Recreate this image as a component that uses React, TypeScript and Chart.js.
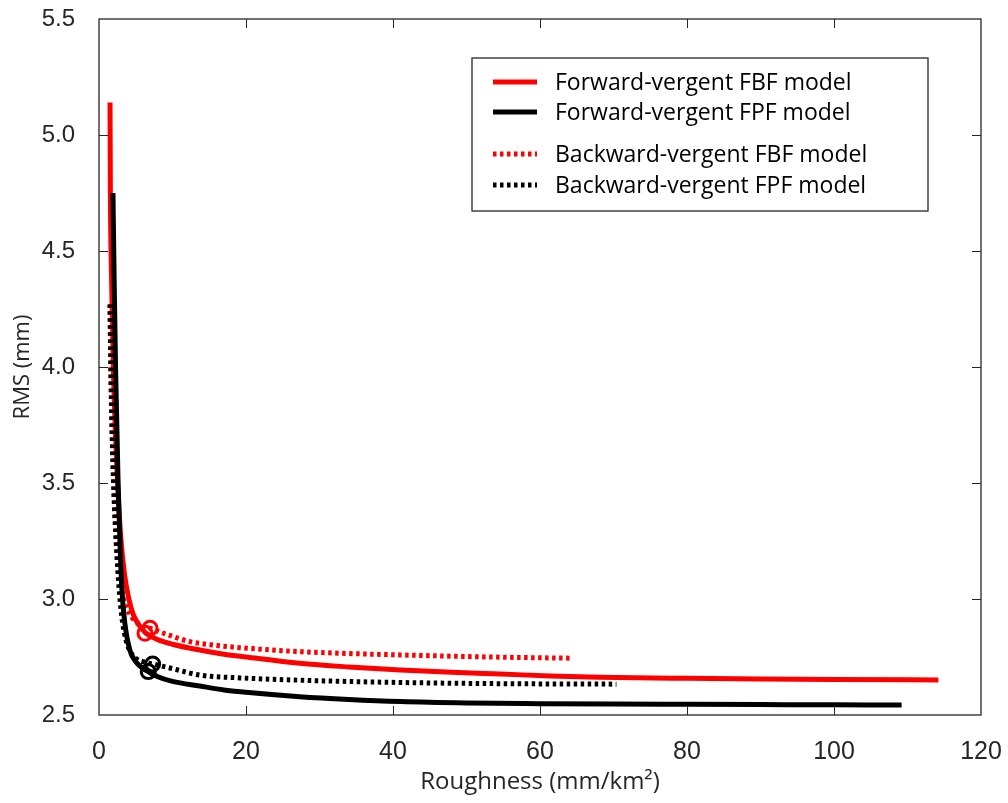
import React, { useEffect, useRef } from "react";
import { Chart, registerables } from "chart.js";

Chart.register(...registerables);

// ---- axis ranges / ticks ----
const X_MIN = 0;
const X_MAX = 120;
const X_STEP = 20;
const Y_MIN = 2.5;
const Y_MAX = 5.5;
const Y_STEP = 0.5;

const X_TITLE = "Roughness (mm/km²)";
const Y_TITLE = "RMS (mm)";

// ---- series labels ----
const LABEL_FWD_FBF = "Forward-vergent FBF model";
const LABEL_FWD_FPF = "Forward-vergent FPF model";
const LABEL_BWD_FBF = "Backward-vergent FBF model";
const LABEL_BWD_FPF = "Backward-vergent FPF model";

// ---- Forward-vergent FBF (red solid) ----
const fwdFbfX = [1.5, 1.55, 1.7, 1.95, 2.25, 2.6, 3.0, 3.5, 4.0, 4.7, 5.5, 6.3, 8, 10, 13.7, 17, 20, 27.3, 34, 41, 48, 54.6, 61.4, 68, 80, 90, 100, 114.2];
const fwdFbfY = [5.14, 4.75, 4.4, 4.0, 3.7, 3.45, 3.25, 3.1, 3.01, 2.93, 2.885, 2.855, 2.825, 2.805, 2.78, 2.762, 2.75, 2.723, 2.707, 2.694, 2.684, 2.677, 2.668, 2.663, 2.658, 2.655, 2.653, 2.651];

// ---- Forward-vergent FPF (black solid) ----
const fwdFpfX = [1.9, 2.05, 2.25, 2.6, 2.85, 3.1, 3.5, 4.2, 5.0, 5.8, 6.7, 8, 10, 13.7, 17, 20, 27.3, 34, 41, 50, 60, 70, 80, 90, 100, 109.2];
const fwdFpfY = [4.75, 4.4, 4.0, 3.5, 3.25, 3.05, 2.9, 2.78, 2.73, 2.705, 2.687, 2.665, 2.645, 2.625, 2.608, 2.598, 2.579, 2.567, 2.558, 2.552, 2.549, 2.547, 2.546, 2.545, 2.544, 2.543];

// ---- Backward-vergent FBF (red dotted) ----
const bwdFbfX = [1.5, 1.6, 1.75, 2.0, 2.3, 2.7, 3.2, 3.8, 4.5, 5.3, 6.1, 6.94, 9, 12.4, 16, 19.2, 27.3, 34, 41, 50, 57, 64.3];
const bwdFbfY = [4.27, 4.0, 3.75, 3.5, 3.3, 3.13, 3.02, 2.96, 2.92, 2.895, 2.882, 2.874, 2.85, 2.816, 2.8, 2.79, 2.773, 2.765, 2.759, 2.752, 2.748, 2.745];

// ---- Backward-vergent FPF (black dotted) ----
const bwdFpfX = [1.5, 1.65, 1.85, 2.1, 2.45, 2.8, 3.2, 3.7, 4.3, 5.2, 6.2, 7.3, 10, 13.7, 19.2, 27.3, 41, 55, 70.4];
const bwdFpfY = [4.27, 3.95, 3.65, 3.4, 3.18, 3.02, 2.9, 2.82, 2.77, 2.74, 2.728, 2.72, 2.7, 2.672, 2.66, 2.65, 2.64, 2.635, 2.633];

// ---- circled optimum points ----
const redMarkX = [6.26, 6.94];
const redMarkY = [2.852, 2.874];
const blackMarkX = [6.7, 7.3];
const blackMarkY = [2.687, 2.72];

const RED = "#ff0000";
const BLACK = "#000000";
const AXIS = "#262626";
const DOTTED = [3.5, 3.5];

const toPts = (xs: number[], ys: number[]) => xs.map((x, i) => ({ x, y: ys[i] }));

const framePlugin = {
  id: "matlabFrame",
  afterDatasetsDraw(chart: any) {
    const { ctx, chartArea, scales } = chart;
    const { left, right, top, bottom } = chartArea;
    const xs = scales.x;
    const ys = scales.y;
    const tl = 9;
    ctx.save();
    ctx.strokeStyle = AXIS;
    ctx.lineWidth = 1;
    ctx.beginPath();
    xs.ticks.forEach((t: any) => {
      const px = Math.round(xs.getPixelForValue(t.value)) + 0.5;
      if (px <= left + 1 || px >= right - 1) return;
      ctx.moveTo(px, bottom);
      ctx.lineTo(px, bottom - tl);
      ctx.moveTo(px, top);
      ctx.lineTo(px, top + tl);
    });
    ys.ticks.forEach((t: any) => {
      const py = Math.round(ys.getPixelForValue(t.value)) + 0.5;
      if (py <= top + 1 || py >= bottom - 1) return;
      ctx.moveTo(left, py);
      ctx.lineTo(left + tl, py);
      ctx.moveTo(right, py);
      ctx.lineTo(right - tl, py);
    });
    ctx.stroke();
    ctx.lineWidth = 1.3;
    ctx.strokeRect(left, top, right - left, bottom - top);
    ctx.restore();
  },
};

const legendPlugin = {
  id: "boxLegend",
  afterDraw(chart: any) {
    const { ctx } = chart;
    const datasets = chart.data.datasets.filter((d: any) => d.legendRow !== undefined);
    datasets.sort((a: any, b: any) => a.legendRow - b.legendRow);
    const bx = 472;
    const by = 58;
    const bw = 456;
    const bh = 153;
    const rowY = [24, 54, 96, 127];
    ctx.save();
    ctx.fillStyle = "#ffffff";
    ctx.fillRect(bx, by, bw, bh);
    ctx.strokeStyle = AXIS;
    ctx.lineWidth = 1.3;
    ctx.strokeRect(bx, by, bw, bh);
    datasets.forEach((d: any, i: number) => {
      const y = by + rowY[i];
      ctx.beginPath();
      ctx.strokeStyle = d.borderColor;
      ctx.lineWidth = d.borderWidth;
      ctx.lineCap = "butt";
      ctx.setLineDash(d.borderDash || []);
      ctx.moveTo(bx + 21, y);
      ctx.lineTo(bx + 65, y);
      ctx.stroke();
      ctx.setLineDash([]);
      ctx.fillStyle = "#000000";
      ctx.font = '23px "Open Sans", sans-serif';
      ctx.textBaseline = "middle";
      ctx.textAlign = "left";
      ctx.fillText(d.label, bx + 83, y + 1);
    });
    ctx.restore();
  },
};

export default function App() {
  const canvasRef = useRef<HTMLCanvasElement | null>(null);

  useEffect(() => {
    if (!canvasRef.current) return;
    const lineBase = {
      showLine: true,
      pointRadius: 0,
      pointHoverRadius: 0,
      borderWidth: 5,
      fill: false,
      cubicInterpolationMode: "monotone" as const,
      borderCapStyle: "butt" as const,
    };
    const markerBase = {
      showLine: false,
      pointStyle: "circle",
      pointRadius: 7,
      pointBorderWidth: 3,
      backgroundColor: "rgba(0,0,0,0)",
      pointBackgroundColor: "rgba(0,0,0,0)",
      order: 0,
    };
    const chart = new Chart(canvasRef.current, {
      type: "scatter",
      data: {
        datasets: [
          {
            ...lineBase,
            label: LABEL_FWD_FBF,
            data: toPts(fwdFbfX, fwdFbfY),
            borderColor: RED,
            backgroundColor: RED,
            order: 4,
            legendRow: 0,
          } as any,
          {
            ...lineBase,
            label: LABEL_FWD_FPF,
            data: toPts(fwdFpfX, fwdFpfY),
            borderColor: BLACK,
            backgroundColor: BLACK,
            order: 2,
            legendRow: 1,
          } as any,
          {
            ...lineBase,
            label: LABEL_BWD_FBF,
            data: toPts(bwdFbfX, bwdFbfY),
            borderColor: RED,
            backgroundColor: RED,
            borderDash: DOTTED,
            order: 3,
            legendRow: 2,
          } as any,
          {
            ...lineBase,
            label: LABEL_BWD_FPF,
            data: toPts(bwdFpfX, bwdFpfY),
            borderColor: BLACK,
            backgroundColor: BLACK,
            borderDash: DOTTED,
            order: 1,
            legendRow: 3,
          } as any,
          {
            ...markerBase,
            label: "red optimum",
            data: toPts(redMarkX, redMarkY),
            borderColor: RED,
            pointBorderColor: RED,
          } as any,
          {
            ...markerBase,
            label: "black optimum",
            data: toPts(blackMarkX, blackMarkY),
            borderColor: BLACK,
            pointBorderColor: BLACK,
          } as any,
        ],
      },
      options: {
        animation: false,
        responsive: true,
        maintainAspectRatio: false,
        events: [],
        layout: { padding: { top: 19, right: 27, left: 0, bottom: 0 } },
        plugins: {
          legend: { display: false },
          tooltip: { enabled: false },
        },
        scales: {
          x: {
            type: "linear",
            min: X_MIN,
            max: X_MAX,
            grid: { display: false },
            border: { display: false },
            ticks: {
              stepSize: X_STEP,
              maxRotation: 0,
              autoSkip: false,
              padding: 14,
              color: AXIS,
              font: { family: '"Liberation Sans", Arial, sans-serif', size: 25 },
            },
            title: {
              display: true,
              text: X_TITLE,
              color: AXIS,
              font: { family: '"Open Sans", sans-serif', size: 24 },
              padding: { top: 6, bottom: 6 },
            },
            afterFit: (s: any) => {
              s.height = 88;
              s.paddingLeft = 0;
              s.paddingRight = 0;
            },
          },
          y: {
            type: "linear",
            min: Y_MIN,
            max: Y_MAX,
            grid: { display: false },
            border: { display: false },
            ticks: {
              stepSize: Y_STEP,
              autoSkip: false,
              padding: 16,
              color: AXIS,
              font: { family: '"Liberation Sans", Arial, sans-serif', size: 24 },
              callback: (v: any) => Number(v).toFixed(1),
            },
            title: {
              display: true,
              text: Y_TITLE,
              color: AXIS,
              font: { family: '"Liberation Sans Narrow", "Open Sans", sans-serif', size: 22 },
              padding: { top: 10, bottom: 10 },
            },
            afterFit: (s: any) => {
              s.width = 99;
              s.paddingTop = 0;
              s.paddingBottom = 0;
            },
          },
        },
      },
      plugins: [framePlugin, legendPlugin],
    } as any);
    return () => chart.destroy();
  }, []);

  return (
    <div style={{ position: "absolute", left: 0, top: 0, width: 1008, height: 803, background: "#ffffff" }}>
      <canvas ref={canvasRef} style={{ display: "block" }} />
    </div>
  );
}
